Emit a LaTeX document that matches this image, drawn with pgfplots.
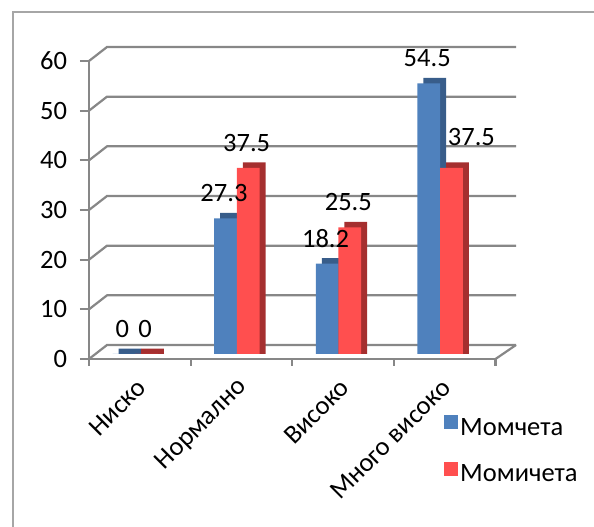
\documentclass[border=0pt]{standalone}
\usepackage{pgfplots}
\pgfplotsset{compat=1.18}
\usepackage{pgfplotstable}
\usepackage{fontspec}
\setmainfont{Carlito}
\definecolor{bluefront}{HTML}{4F81BD}
\definecolor{bluedark}{HTML}{385D8A}
\definecolor{redfront}{HTML}{FF4F4F}
\definecolor{reddark}{HTML}{A52F2F}
\definecolor{gridgray}{HTML}{878787}
\definecolor{bordergray}{HTML}{A6A6A6}
% x: category, boys / girls values, label offsets for girls (gx, gy)
\pgfplotstableread{
x boys girls gx gy
0 0    0    0  0
1 27.3 37.5 0  0
2 18.2 25.5 0  0
3 54.5 37.5 21.5 5.5
}\data
\newcommand\bigfont{\fontsize{26.5}{31}\selectfont}
\begin{document}
\begin{tikzpicture}
\useasboundingbox (0pt,0pt) rectangle (594pt,527pt);
\draw[bordergray, line width=2pt] (12.5pt,-20pt) -- (12.5pt,514.5pt) -- (620pt,514.5pt);
\begin{axis}[
  at={(89pt,168pt)}, anchor=south west,
  scale only axis, width=406.5pt, height=298pt,
  xmin=-0.5, xmax=3.5, ymin=0, ymax=60,
  clip=false,
  axis x line*=bottom, axis y line*=left,
  axis line style={gridgray, line width=2.2pt},
  ytick={0,10,...,60},
  xtick={0,1,2,3},
  xticklabels={Ниско, Нормално, Високо, Много високо},
  minor xtick={-0.5,0.5,1.5,2.5,3.5},
  tick align=outside,
  major tick length=9pt, minor tick length=7pt,
  tick style={gridgray, line width=2.2pt},
  major x tick style={draw=none},
  /pgf/number format/assume math mode=true,
  yticklabel style={font=\bigfont, xshift=-9.5pt},
  xticklabel style={font=\bigfont, xshift=4pt, yshift=-13pt, rotate=45, anchor=east},
  legend style={draw=none, fill=none, font=\bigfont, at={(0.866,-0.182)}, anchor=north west, row sep=23pt, nodes={xshift=5pt}},
  legend cell align=left,
]
\pgfplotsinvokeforeach{0,10,...,60}{
  \draw[gridgray, line width=2.2pt] (axis cs:-0.5,#1) -- ([xshift=18pt,yshift=14pt]axis cs:-0.5,#1) -- ([xshift=20.5pt,yshift=14pt]axis cs:3.5,#1);
}
\draw[gridgray, line width=2.2pt] (axis cs:3.5,0) -- ([xshift=20.5pt,yshift=14pt]axis cs:3.5,0);
% boys
\addplot[ybar, bar width=22.7pt, bar shift=-11.35pt, fill=bluedark, draw=none, xshift=1.4pt, yshift=5pt, forget plot]
  table[x=x, y expr=\thisrow{boys}+1.1] {\data};
\addplot[ybar, bar width=22.7pt, bar shift=-11.35pt, fill=bluefront, draw=none, xshift=-4.6pt, yshift=5pt,
  legend image code/.code={\fill[bluefront] (0pt,-7pt) rectangle (14pt,7pt);},
  nodes near coords, every node near coord/.append style={font=\bigfont, text=black, anchor=center, xshift=-12.85pt, yshift=25pt}]
  table[x=x, y=boys] {\data};
\addlegendentry{Момчета}
% girls
\addplot[ybar, bar width=22.7pt, bar shift=11.35pt, fill=reddark, draw=none, xshift=1.4pt, yshift=5pt, forget plot]
  table[x=x, y expr=\thisrow{girls}+1.1] {\data};
\addplot[ybar, bar width=22.7pt, bar shift=11.35pt, fill=redfront, draw=none, xshift=-4.6pt, yshift=5pt,
  legend image code/.code={\fill[redfront] (0pt,-7pt) rectangle (14pt,7pt);},
  visualization depends on={\thisrow{gx}\as\gx},
  visualization depends on={\thisrow{gy}\as\gy},
  nodes near coords, every node near coord/.append style={font=\bigfont, text=black, anchor=center, xshift=\gx pt+9.85pt, yshift=\gy pt+25pt}]
  table[x=x, y=girls] {\data};
\addlegendentry{Момичета}
\end{axis}
\end{tikzpicture}
\end{document}
